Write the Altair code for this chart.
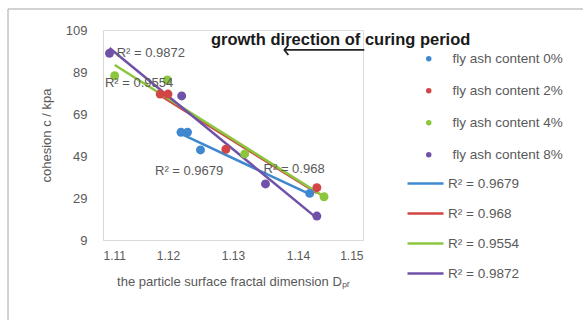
import altair as alt
import pandas as pd

series_names = ["fly ash content 0%", "fly ash content 2%", "fly ash content 4%", "fly ash content 8%"]
r2_labels = ["R² = 0.9679", "R² = 0.968", "R² = 0.9554", "R² = 0.9872"]
colors = ["#3F88CF", "#D24545", "#8CC63F", "#7051A8"]

dpr_0 = [1.1220, 1.1230, 1.1250, 1.1418]
c_0 = [60.3, 60.3, 51.9, 31.2]
dpr_2 = [1.1188, 1.1200, 1.1289, 1.1429]
c_2 = [78.5, 78.5, 52.2, 33.9]
dpr_4 = [1.1118, 1.1199, 1.1318, 1.1440]
c_4 = [87.2, 85.2, 50.0, 29.6]
dpr_8 = [1.1110, 1.1221, 1.1350, 1.1429]
c_8 = [97.9, 77.6, 35.7, 20.4]

x_ticks = [1.11, 1.12, 1.13, 1.14, 1.15]
y_ticks = [9, 29, 49, 69, 89, 109]

# in-plot R² annotations (data coordinates of their left/middle anchor)
ann_text = ["R² = 0.9872", "R² = 0.9554", "R² = 0.9679", "R² = 0.968"]
ann_x = [1.1121, 1.1103, 1.1180, 1.1347]
ann_y = [98.0, 83.8, 41.9, 42.8]

title_text = "growth direction of curing period"
title_x = [1.1266]
title_y = [104.4]
arrow_x = [1.1379, 1.1502]
arrow_y = [99.5]

rows = []
for name, lab, xs, ys in zip(series_names, r2_labels, [dpr_0, dpr_2, dpr_4, dpr_8], [c_0, c_2, c_4, c_8]):
    for xv, yv in zip(xs, ys):
        rows.append({"series": name, "r2": lab, "x": xv, "y": yv})
df = pd.DataFrame(rows)

xscale = alt.Scale(domain=[1.11, 1.15], nice=False, zero=False)
yscale = alt.Scale(domain=[9, 109], nice=False, zero=False)

gray = "#595959"

base = alt.Chart(df)

x_enc = alt.X("x:Q", scale=xscale,
              axis=alt.Axis(values=x_ticks, format=".2f", ticks=False, grid=False,
                            domainColor="#d9d9d9", labelColor=gray, labelFontSize=12,
                            labelPadding=10, title="the particle surface fractal dimension Dₚᵣ",
                            titleColor=gray, titleFontSize=13, titleFontWeight="normal",
                            titlePadding=14))
y_enc = alt.Y("y:Q", scale=yscale,
              axis=alt.Axis(values=y_ticks, ticks=False, grid=False,
                            domainColor="#d9d9d9", labelColor=gray, labelFontSize=13,
                            labelPadding=16, title="cohesion c / kpa",
                            titleColor=gray, titleFontSize=13, titleFontWeight="normal",
                            titlePadding=12))

points = base.mark_point(filled=True, size=80, opacity=1).encode(
    x=x_enc, y=y_enc,
    color=alt.Color("series:N", scale=alt.Scale(domain=series_names, range=colors),
                    legend=alt.Legend(title=None, orient="none", legendX=319, legendY=22,
                                      symbolType="circle", symbolSize=30, labelFontSize=13.5,
                                      labelColor=gray, labelOffset=17, rowPadding=17,
                                      padding=0, symbolStrokeWidth=0)),
)

lines = base.transform_regression("x", "y", groupby=["r2"]).mark_line(strokeWidth=2.5).encode(
    x=alt.X("x:Q", scale=xscale),
    y=alt.Y("y:Q", scale=yscale),
    stroke=alt.Stroke("r2:N", scale=alt.Scale(domain=r2_labels, range=colors),
                      legend=alt.Legend(title=None, orient="none", legendX=315, legendY=146,
                                        symbolType="M-3,0H3", symbolSize=144,
                                        symbolStrokeWidth=2.5, labelFontSize=13.5,
                                        labelColor=gray, labelOffset=15, rowPadding=16,
                                        padding=0)),
)

ann = alt.Chart(pd.DataFrame({"t": ann_text, "x": ann_x, "y": ann_y})).mark_text(
    align="left", baseline="middle", fontSize=13, color=gray
).encode(x=alt.X("x:Q", scale=xscale), y=alt.Y("y:Q", scale=yscale), text="t:N")

title = alt.Chart(pd.DataFrame({"t": [title_text], "x": title_x, "y": title_y})).mark_text(
    align="left", baseline="middle", fontSize=16.5, fontWeight="bold", color="#1a1a1a"
).encode(x=alt.X("x:Q", scale=xscale), y=alt.Y("y:Q", scale=yscale), text="t:N")

arrow_line = alt.Chart(pd.DataFrame({"x": [arrow_x[0]], "x2": [arrow_x[1]], "y": arrow_y})).mark_rule(
    color="#222222", strokeWidth=1.8
).encode(x=alt.X("x:Q", scale=xscale), x2="x2:Q", y=alt.Y("y:Q", scale=yscale))

arrow_head = alt.Chart(pd.DataFrame({"x": [arrow_x[0]], "y": arrow_y})).mark_point(
    shape="M0.8,-1L0,0L0.8,1", size=100, filled=False, strokeWidth=1.8, color="#222222", opacity=1
).encode(x=alt.X("x:Q", scale=xscale), y=alt.Y("y:Q", scale=yscale))

frame = alt.Chart(pd.DataFrame({"a": [0]})).mark_rect(
    fill=None, stroke="#a6a6a6", strokeWidth=1
).encode(x=alt.value(-95), x2=alt.value(500), y=alt.value(-21), y2=alt.value(300))

chart = alt.layer(frame, lines, points, ann, title, arrow_line, arrow_head).resolve_scale(
    color="independent", stroke="independent"
).properties(
    width=260, height=210,
    autosize=alt.AutoSizeParams(type="none"),
    padding={"left": 103, "top": 30, "right": 220, "bottom": 80},
    background="white",
).configure_view(strokeWidth=0).configure(font="Liberation Sans")

chart.save("out.html", embed_options={"renderer": "svg", "actions": False})
